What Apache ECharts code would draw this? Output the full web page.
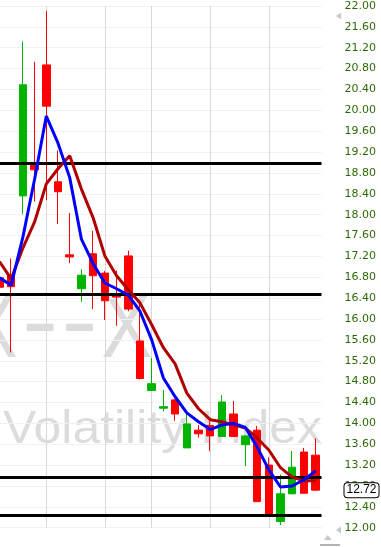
<!DOCTYPE html>
<html><head><meta charset="utf-8">
<script src="https://cdn.jsdelivr.net/npm/echarts@6/dist/echarts.min.js"></script>
<style>html,body{margin:0;padding:0;background:#fff}#c{width:381px;height:547px}</style>
</head><body><div id="c"></div>
<script>
// ---- data ----
const days = ['2013-06-18','2013-06-19','2013-06-20','2013-06-21','2013-06-24','2013-06-25','2013-06-26','2013-06-27','2013-06-28',
  '2013-07-01','2013-07-02','2013-07-03','2013-07-05','2013-07-08','2013-07-09','2013-07-10','2013-07-11','2013-07-12',
  '2013-07-15','2013-07-16','2013-07-17','2013-07-18','2013-07-19','2013-07-22','2013-07-23','2013-07-24','2013-07-25','2013-07-26'];
const opens  = [16.79,16.84,18.36,18.97,20.87,18.63,17.23,16.58,17.25,16.88,16.46,17.21,15.58,14.63,14.29,14.45,13.53,13.87,13.96,13.75,14.18,13.59,13.87,13.20,12.12,12.65,13.45,13.39];
const closes = [16.61,16.62,20.49,18.86,20.08,18.44,17.19,16.84,16.83,16.35,16.42,16.19,14.86,14.76,14.32,14.18,13.99,13.80,13.76,14.41,13.75,13.76,12.50,12.26,12.65,13.16,12.66,12.72];
const lows   = [16.52,15.36,18.01,18.25,18.28,17.82,17.07,16.33,16.19,15.98,15.87,16.15,14.84,14.62,14.23,14.05,13.53,13.73,13.47,13.74,13.74,13.18,12.49,12.25,12.05,12.64,12.65,12.71];
const highs  = [16.84,17.16,21.32,20.93,21.90,19.23,18.03,16.95,17.69,16.92,16.93,17.31,16.33,15.25,14.64,14.47,14.21,13.97,14.04,14.54,14.43,13.76,13.95,13.35,13.02,13.47,13.53,13.71];
const maFast = [16.79,16.65,17.57,18.68,19.89,19.37,18.71,17.53,17.06,16.69,16.58,16.46,16.15,15.60,14.87,14.51,14.20,14.03,13.88,13.97,14.00,13.92,13.55,13.11,12.78,12.80,12.92,13.09];
const maSlow = [17.10,16.77,17.36,17.86,18.59,18.88,19.13,18.49,17.94,17.21,16.83,16.56,16.31,15.89,15.45,15.14,14.58,14.28,14.07,14.03,13.97,13.91,13.72,13.49,13.15,12.97,12.90,12.90];
const levels = [18.98, 16.47, 12.97, 12.23];
const weekStarts = ['2013-06-24','2013-07-01','2013-07-08','2013-07-15','2013-07-22'];
const yMin = 12, yMax = 22, yStep = 0.4;
const lastPrice = 12.72;
const watermarkSymbol = ['X', '-', '-', 'X'];
const watermarkName = 'Volatility Index';

// ---- chart ----
const chart = echarts.init(document.getElementById('c'), null, {renderer:'canvas', width:381, height:547});
const candleData = days.map((d, i) => [opens[i], closes[i], lows[i], highs[i]]);
const wmColor = '#dcdcdc';
const wmFont = 'Liberation Sans, Arial, sans-serif';

const option = {
  animation: false,
  backgroundColor: '#ffffff',
  grid: {left: -6.4, top: 6, width: 327.9, height: 521.7, containLabel: false, outerBoundsMode: 'none'},
  xAxis: {
    type: 'category', data: days, boundaryGap: true,
    axisLine: {show: false}, axisTick: {show: false}, axisLabel: {show: false}, splitLine: {show: false}
  },
  yAxis: {
    type: 'value', position: 'right', min: yMin, max: yMax, interval: yStep, scale: true,
    axisLine: {show: false}, axisTick: {show: false},
    axisLabel: {margin: 23, color: '#2f6a08', fontFamily: 'DejaVu Sans', fontSize: 11, formatter: v => v.toFixed(2)},
    splitLine: {lineStyle: {color: '#f1f1f1', width: 1}}
  },
  graphic: [
    {type: 'text', z: -1, x: 17.5, y: 331, scaleX: 0.82, style: {text: watermarkSymbol[0], font: '93px ' + wmFont, fill: wmColor, align: 'right', textAlign: 'right', verticalAlign: 'middle', textVerticalAlign: 'middle'}},
    {type: 'text', z: -1, x: 40, y: 326.4, scaleX: 1.17, style: {text: watermarkSymbol[1], font: '93px ' + wmFont, fill: wmColor, align: 'center', textAlign: 'center', verticalAlign: 'middle', textVerticalAlign: 'middle'}},
    {type: 'text', z: -1, x: 79.7, y: 326.4, scaleX: 1.17, style: {text: watermarkSymbol[2], font: '93px ' + wmFont, fill: wmColor, align: 'center', textAlign: 'center', verticalAlign: 'middle', textVerticalAlign: 'middle'}},
    {type: 'text', z: -1, x: 101.3, y: 331, scaleX: 0.82, style: {text: watermarkSymbol[3], font: '93px ' + wmFont, fill: wmColor, align: 'left', textAlign: 'left', verticalAlign: 'middle', textVerticalAlign: 'middle'}},
    {type: 'text', z: -1, x: 3, y: 430, scaleX: 1.085, style: {text: watermarkName, font: '46px ' + wmFont, fill: wmColor, align: 'left', textAlign: 'left', verticalAlign: 'middle', textVerticalAlign: 'middle'}},
    {type: 'polygon', shape: {points: [[336, 16], [341, 12.5], [341, 19.5]]}, style: {fill: '#c8c8c8'}},
    {type: 'polygon', shape: {points: [[336, 530], [341, 526.5], [341, 533.5]]}, style: {fill: '#c8c8c8'}},
    {type: 'polygon', shape: {points: [[327.8, 535], [324, 540], [331.6, 540]]}, style: {fill: '#c8c8c8'}},
    {type: 'rect', shape: {x: 320, y: 544.5, width: 20, height: 1}, style: {fill: '#666'}}
  ],
  series: [
    {
      type: 'line', data: [], z: 1,
      markLine: {silent: true, symbol: 'none', animation: false, z: 1, label: {show: false},
        lineStyle: {color: '#d8d8d8', width: 1, type: 'solid'},
        data: weekStarts.map(d => ({xAxis: d}))}
    },
    {
      type: 'candlestick', data: candleData, barWidth: 8, z: 2,
      itemStyle: {color: '#00b400', color0: '#ff0000', borderColor: '#00b400', borderColor0: '#ff0000', borderWidth: 1},
      markLine: {silent: true, symbol: 'none', animation: false, z: 3, label: {show: false},
        lineStyle: {color: '#000000', width: 3, type: 'solid'},
        data: levels.map(v => ({yAxis: v}))}
    },
    {
      type: 'line', data: maSlow, z: 4, symbol: 'none', smooth: false,
      lineStyle: {color: '#b00000', width: 3}
    },
    {
      type: 'line', data: maFast, z: 5, symbol: 'none', smooth: false,
      lineStyle: {color: '#0000ff', width: 3},
      markLine: {silent: true, symbol: 'none', animation: false, z: 6,
        lineStyle: {color: 'rgba(0,0,0,0)', width: 1},
        label: {show: true, opacity: 1, position: 'end', distance: 23, formatter: () => lastPrice.toFixed(2),
          color: '#000', fontFamily: 'Liberation Sans', fontSize: 12, backgroundColor: '#fff',
          borderColor: '#000', borderWidth: 1, borderRadius: 3, padding: [1, 2, 1, 2]},
        data: [{yAxis: lastPrice}]}
    }
  ]
};
chart.setOption(option);
</script>
</body></html>
